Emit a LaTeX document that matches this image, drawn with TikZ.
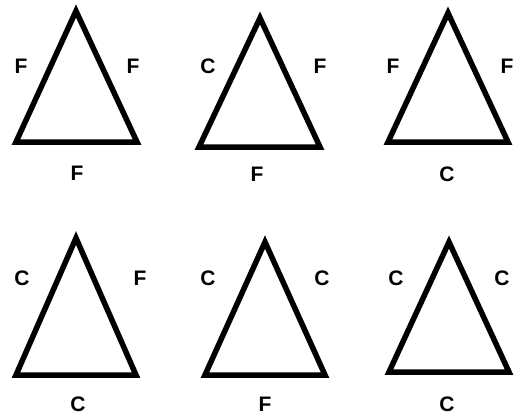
\documentclass[tikz,border=0pt]{standalone}
\usepackage{fontspec}
\setmainfont{Liberation Sans}
\begin{document}
\begin{tikzpicture}[
x=1pt,y=-1pt,
every node/.style={
font=\bfseries\fontsize{21}{21}\selectfont,
inner sep=0pt
},
tri/.style={
draw,
line width=5.5pt,
line join=miter
}
]
\useasboundingbox (0,0) rectangle (519,417);

% first row
\coordinate (A1) at (76,11);
\coordinate (B1) at (16,142);
\coordinate (C1) at (137,142);
\draw[tri] (A1) -- (B1) -- (C1) -- cycle;
\node (l1) at (21,66) {F};
\node (r1) at (133,66) {F};
\node (b1) at (77,173) {F};

\coordinate (A2) at (260,18);
\coordinate (B2) at (199,147);
\coordinate (C2) at (320,147);
\draw[tri] (A2) -- (B2) -- (C2) -- cycle;
\node (l2) at (208,66) {C};
\node (r2) at (320,66) {F};
\node (b2) at (257,174) {F};

\coordinate (A3) at (448,13);
\coordinate (B3) at (388,142);
\coordinate (C3) at (508,142);
\draw[tri] (A3) -- (B3) -- (C3) -- cycle;
\node (l3) at (393,66) {F};
\node (r3) at (507,66) {F};
\node (b3) at (447,174) {C};

% second row
\coordinate (A4) at (76,238);
\coordinate (B4) at (16,375);
\coordinate (C4) at (136,375);
\draw[tri] (A4) -- (B4) -- (C4) -- cycle;
\node (l4) at (22,278) {C};
\node (r4) at (140,278) {F};
\node (b4) at (78,404) {C};

\coordinate (A5) at (265,242);
\coordinate (B5) at (205,375);
\coordinate (C5) at (325,375);
\draw[tri] (A5) -- (B5) -- (C5) -- cycle;
\node (l5) at (208,278) {C};
\node (r5) at (322,278) {C};
\node (b5) at (265,404) {F};

\coordinate (A6) at (449,242);
\coordinate (B6) at (389,372);
\coordinate (C6) at (509,372);
\draw[tri] (A6) -- (B6) -- (C6) -- cycle;
\node (l6) at (396,278) {C};
\node (r6) at (502,278) {C};
\node (b6) at (447,404) {C};

\end{tikzpicture}
\end{document}
